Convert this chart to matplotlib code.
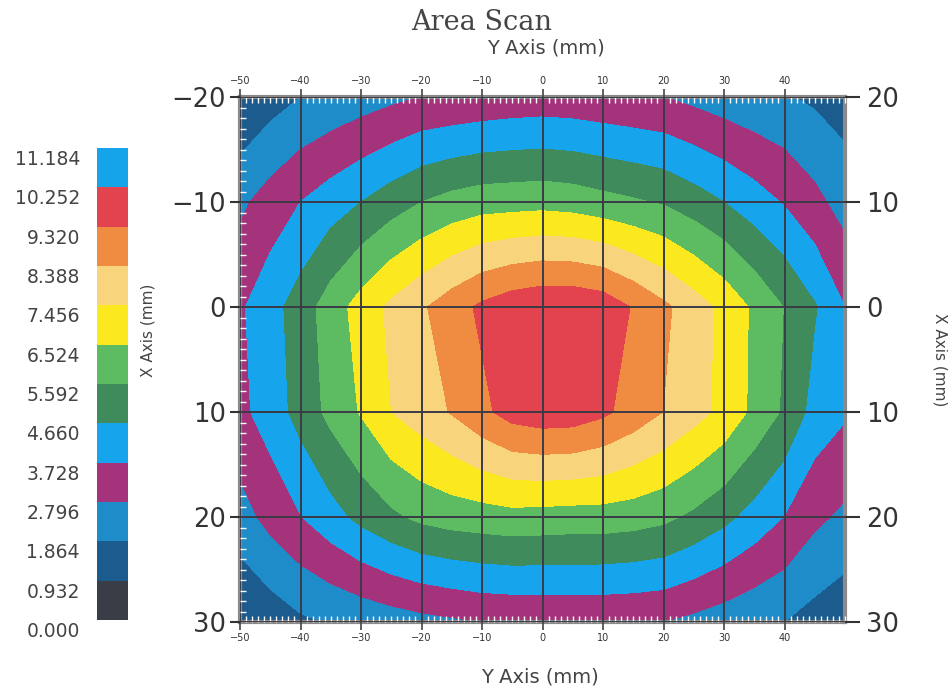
import numpy as np
import matplotlib
matplotlib.use("Agg")
import matplotlib.pyplot as plt
from matplotlib.ticker import MultipleLocator

# ---- data ----
y_mm = [-50, -45, -40, -35, -30, -25, -20, -15, -10, -5, 0, 5, 10, 15, 20, 25, 30, 35, 40, 45, 50]
x_mm = [-20, -10, 0, 10, 20, 30]
row_m20 = [0.95, 1.45, 1.86, 2.1, 2.35, 2.58, 2.82, 2.9, 3.0, 3.1, 3.15, 3.1, 3.0, 2.9, 2.8, 2.55, 2.3, 2.1, 1.95, 1.7, 1.45]
row_m10 = [2.6, 3.2, 3.73, 4.2, 4.66, 5.15, 5.59, 5.9, 6.1, 6.15, 6.2, 6.1, 5.89, 5.7, 5.5, 5.1, 4.66, 4.15, 3.65, 3.05, 2.4]
row_0 = [3.6, 4.3, 5.1, 6.05, 6.9, 7.65, 8.26, 8.9, 9.5, 9.9, 10.1, 10.1, 9.9, 9.25, 8.58, 7.9, 7.2, 6.36, 5.56, 4.74, 3.73]
row_10 = [3.5, 4.15, 5.0, 5.85, 6.6, 7.45, 7.93, 8.45, 9.1, 9.7, 9.9, 9.85, 9.5, 8.95, 8.37, 7.8, 7.2, 6.3, 5.45, 4.3, 3.85]
row_20 = [2.4, 3.1, 3.7, 4.3, 4.9, 5.4, 5.8, 6.0, 6.1, 6.2, 6.15, 6.1, 6.1, 6.0, 5.8, 5.4, 4.9, 4.3, 3.7, 3.0, 2.6]
row_30 = [0.95, 1.3, 1.7, 1.92, 2.12, 2.32, 2.5, 2.65, 2.8, 2.84, 2.88, 2.9, 2.88, 2.85, 2.8, 2.55, 2.3, 2.05, 1.86, 1.5, 1.2]

levels = [0.000, 0.932, 1.864, 2.796, 3.728, 4.660, 5.592, 6.524, 7.456, 8.388, 9.320, 10.252, 11.184]
band_colors = ['#383d46', '#1c5b8d', '#1f8cca', '#a5337c', '#16a5ec', '#3f8b5c',
               '#5dbb61', '#fbe81f', '#f8d57c', '#f08b42', '#e3434f', '#15a3ea']

x_ticks = [-50, -40, -30, -20, -10, 0, 10, 20, 30, 40]
y_ticks = [-20, -10, 0, 10, 20, 30]
right_labels = ['20', '10', '0', '10', '20', '30']

Z = np.array([row_m20, row_m10, row_0, row_10, row_20, row_30])

# ---- figure ----
W, H = 952, 689
fig = plt.figure(figsize=(W / 100, H / 100), dpi=100)
fig.patch.set_facecolor('white')

def fx(px):
    return px / W

def fy(py):
    return 1 - py / H

def lab(v):
    return str(v).replace('-', '\u2212')

ax = fig.add_axes([fx(240), fy(622), fx(845) - fx(240), fy(97) - fy(622)])
ax.contourf(y_mm, x_mm, Z, levels=levels, colors=band_colors)
ax.set_xlim(-50, 50)
ax.set_ylim(30, -20)

ax.set_xticks(x_ticks)
ax.set_xticklabels([lab(v) for v in x_ticks])
ax.set_yticks(y_ticks)
ax.set_yticklabels([lab(v) for v in y_ticks])
ax.xaxis.set_minor_locator(MultipleLocator(1))
ax.yaxis.set_minor_locator(MultipleLocator(1))

ax.set_axisbelow(False)
ax.grid(which='major', color='#3b3b46', lw=1.4)

ax.tick_params(axis='x', which='major', direction='out', length=6, width=1.2,
               color='#444444', labelsize=7, labelcolor='#333333', pad=2,
               top=True, labeltop=True, bottom=True, labelbottom=True)
ax.tick_params(axis='y', which='major', direction='out', length=7, width=1.5,
               color='#333333', labelsize=18.5, labelcolor='#333333', pad=3,
               left=True, right=False)
ax.tick_params(which='minor', direction='in', length=4, width=1, color='white',
               top=True, bottom=True, left=True, right=True)

for s in ax.spines.values():
    s.set_color('#8a8a8a')
    s.set_linewidth(3)

ax2 = ax.twinx()
ax2.set_ylim(30, -20)
ax2.set_yticks(y_ticks)
ax2.set_yticklabels(right_labels)
ax2.tick_params(axis='y', which='major', direction='out', length=11, width=1.5,
                color='#333333', labelsize=18.5, labelcolor='#333333', pad=4)
for s in ax2.spines.values():
    s.set_visible(False)

# ---- texts ----
fig.text(fx(482), fy(22), 'Area Scan', family='DejaVu Serif', fontsize=19.5,
         color='#444444', ha='center', va='center')
fig.text(fx(546), fy(48), 'Y Axis (mm)', fontsize=14, color='#444444',
         ha='center', va='center')
fig.text(fx(540), fy(677), 'Y Axis (mm)', fontsize=14, color='#444444',
         ha='center', va='center')
fig.text(fx(148), fy(330), 'X Axis (mm)', fontsize=11, color='#444444',
         ha='center', va='center', rotation=90)
fig.text(fx(940), fy(360), 'X Axis (mm)', fontsize=11, color='#444444',
         ha='center', va='center', rotation=-90)

# ---- colour legend ----
cax = fig.add_axes([fx(97), fy(620), fx(128) - fx(97), fy(148) - fy(620)])
for i in range(len(band_colors)):
    cax.bar(0.5, levels[i + 1] - levels[i], bottom=levels[i], width=1.0,
            color=band_colors[i], linewidth=0)
cax.set_xlim(0, 1)
cax.set_ylim(levels[0], levels[-1])
cax.axis('off')
step = levels[1] - levels[0]
for L in levels:
    cax.text(-0.55, L - 0.29 * step, f"{L:.3f}", ha='right', va='center',
             fontsize=13.5, color='#444444', clip_on=False)

fig.savefig('out.png', dpi=100)
